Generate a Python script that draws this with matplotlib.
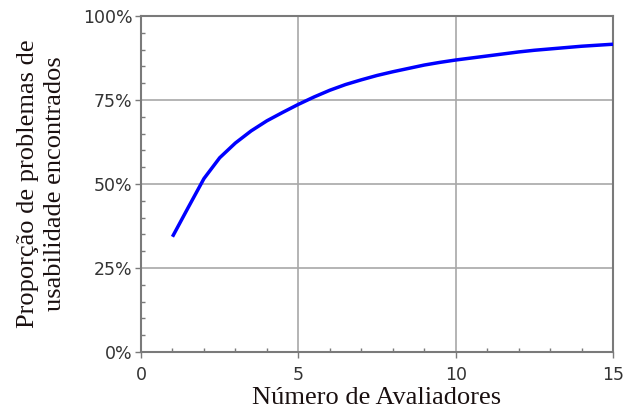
import matplotlib.pyplot as plt
from matplotlib.ticker import MultipleLocator, PercentFormatter

# Data
avaliadores = [1, 1.5, 2, 2.5, 3, 3.5, 4, 4.5, 5, 5.5, 6, 6.5, 7, 7.5, 8, 8.5,
               9, 9.5, 10, 10.5, 11, 11.5, 12, 12.5, 13, 13.5, 14, 14.5, 15]
proporcao = [34.3, 43.0, 51.6, 57.8, 62.2, 65.8, 68.8, 71.3, 73.7, 75.9, 77.9, 79.6,
             81.0, 82.3, 83.4, 84.4, 85.4, 86.2, 86.9, 87.5, 88.1, 88.7, 89.3, 89.8,
             90.2, 90.6, 91.0, 91.3, 91.6]

x_ticks = [0, 5, 10, 15]
y_ticks = [0, 25, 50, 75, 100]

fig = plt.figure(figsize=(6.24, 4.11), dpi=100)
ax = fig.add_axes([141 / 624, 1 - 352 / 411, 472 / 624, 336 / 411])

ax.plot(avaliadores, proporcao, color="#0000ff", lw=2.5, solid_capstyle="butt",
        solid_joinstyle="round", zorder=3)

ax.set_xlim(0, 15)
ax.set_ylim(0, 100)
ax.set_xticks(x_ticks)
ax.set_yticks(y_ticks)
ax.xaxis.set_minor_locator(MultipleLocator(1))
ax.yaxis.set_minor_locator(MultipleLocator(5))
ax.yaxis.set_major_formatter(PercentFormatter(decimals=0))

ax.grid(True, which="major", color="#a8a8a8", lw=1.2, zorder=1)
for s in ax.spines.values():
    s.set_color("#7a7a7a")
    s.set_linewidth(1.5)

ax.tick_params(which="major", length=4, width=1, color="#7a7a7a",
               labelsize=12.5, labelcolor="#333333", pad=2)
ax.tick_params(axis="x", which="major", pad=6)
ax.tick_params(which="minor", direction="in", length=3, width=1, color="#7a7a7a")

ax.set_xlabel("Número de Avaliadores", family="Liberation Serif", fontsize=19,
              color="#1a1010", labelpad=2)
ax.set_ylabel("Proporção de problemas de\nusabilidade encontrados",
              family="Liberation Serif", fontsize=19, color="#1a1010",
              linespacing=1.3, labelpad=12)

fig.savefig("out.png", dpi=100)
